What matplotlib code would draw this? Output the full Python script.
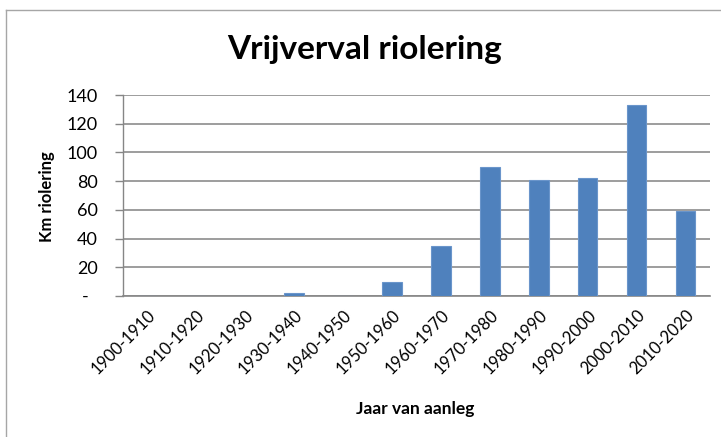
import matplotlib
matplotlib.use("Agg")
import matplotlib.pyplot as plt
from matplotlib.lines import Line2D

categories = ["1900-1910", "1910-1920", "1920-1930", "1930-1940", "1940-1950", "1950-1960",
              "1960-1970", "1970-1980", "1980-1990", "1990-2000", "2000-2010", "2010-2020"]
values = [0, 0, 0, 2, 0, 10, 34.5, 89.8, 81, 82, 133, 59]
yticks = [0, 20, 40, 60, 80, 100, 120, 140]
ytick_labels = ["-  ", "20", "40", "60", "80", "100", "120", "140"]

plt.rcParams['font.family'] = ['Lato', 'DejaVu Sans']

W, H = 721, 437
fig = plt.figure(figsize=(W / 100, H / 100), dpi=100)
ax = fig.add_axes([123 / W, 1 - 296 / H, (710 - 123) / W, (296 - 95) / H])

x = list(range(len(categories)))
ax.bar(x, values, width=0.4, color="#4F81BD", edgecolor="#6A95CB", linewidth=0.8, zorder=3)
ax.set_xlim(-0.5, len(categories) - 0.5)
ax.set_ylim(0, 140)
ax.set_yticks(yticks)
ax.set_yticklabels(ytick_labels, fontsize=13)
ax.set_xticks(x)
ax.set_xticklabels(categories, rotation=45, ha="right", rotation_mode="anchor", fontsize=12)
ax.tick_params(axis="x", length=0, pad=8)
ax.tick_params(axis="y", length=6, width=1, color="#868686", pad=12)
ax.yaxis.grid(True, color="#8C8C8C", linewidth=1.2, zorder=0)
for s in ["top", "right"]:
    ax.spines[s].set_visible(False)
ax.spines["left"].set_color("#868686")
ax.spines["bottom"].set_color("#868686")
ax.spines["left"].set_linewidth(1)
ax.spines["bottom"].set_linewidth(1.2)

fig.text(47 / W, 1 - 197 / H, "Km riolering", ha="center", va="center", rotation=90,
         fontsize=12, fontweight="bold")
fig.text(415 / W, 1 - 409 / H, "Jaar van aanleg", ha="center", va="center", fontsize=12.5, fontweight="bold")
fig.text(365 / W, 1 - 50 / H, "Vrijverval riolering", ha="center", va="center", fontsize=24, fontweight="bold")

# chart area border
fig.add_artist(Line2D([6 / W, 1], [1 - 10 / H, 1 - 10 / H], transform=fig.transFigure, color="#A6A6A6", linewidth=1))
fig.add_artist(Line2D([6 / W, 6 / W], [0, 1 - 10 / H], transform=fig.transFigure, color="#A6A6A6", linewidth=1))

fig.savefig("out.png", dpi=100)
